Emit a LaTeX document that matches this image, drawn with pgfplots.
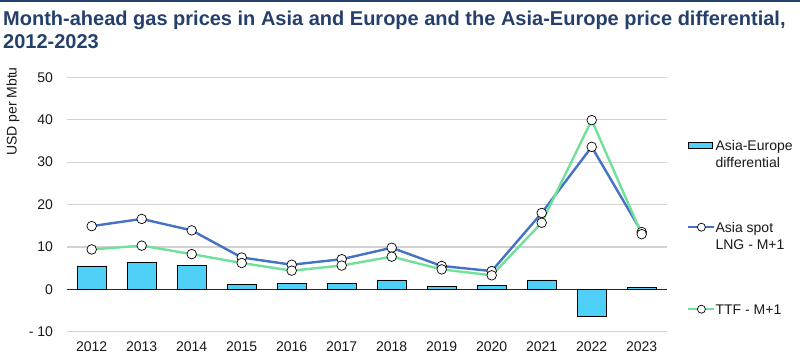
\documentclass[border=0pt]{standalone}
\usepackage{graphicx}
\usepackage{pgfplots}
\pgfplotsset{compat=1.18}
\usepackage{fontspec}
\setmainfont{Liberation Sans}
\definecolor{titlecol}{RGB}{36,64,107}
\definecolor{barcol}{RGB}{79,208,247}
\definecolor{asiacol}{RGB}{68,114,196}
\definecolor{ttfcol}{RGB}{112,224,155}
\definecolor{gridcol}{RGB}{210,210,210}
\definecolor{txtcol}{RGB}{25,25,25}
\pgfplotsset{
  linelegend/.style={legend image code/.code={\draw[##1, mark size=4bp, mark repeat=2, mark phase=2] plot coordinates {(0bp,5bp) (13bp,5bp) (26bp,5bp)};}},
  barlegend/.style={legend image code/.code={\draw[fill=barcol, draw=black, line width=0.8bp] (0bp,1.7bp) rectangle (24bp,7.7bp);}},
}
\begin{document}
\begin{tikzpicture}
\useasboundingbox (0,0) rectangle (800bp,-359bp);
\fill[titlecol] (0,0) rectangle (800bp,-1.5bp);
\node[anchor=base west, inner sep=0, text=titlecol, font=\fontsize{20bp}{23bp}\selectfont\bfseries] at (3bp,-25bp) {Month-ahead gas prices in Asia and Europe and the Asia-Europe price differential,};
\node[anchor=base west, inner sep=0, text=titlecol, font=\fontsize{20bp}{23bp}\selectfont\bfseries] at (3bp,-48bp) {2012-2023};
\begin{axis}[
  at={(66.7bp,-331.7bp)}, anchor=south west,
  scale only axis, width=600bp, height=254.4bp,
  xmin=-0.5, xmax=11.5, ymin=-10, ymax=50,
  xtick={0,1,2,3,4,5,6,7,8,9,10,11},
  xticklabels={2012,2013,2014,2015,2016,2017,2018,2019,2020,2021,2022,2023},
  ytick={-10,0,10,20,30,40,50},
  yticklabels={- 10,0,10,20,30,40,50},
  axis line style={draw=none},
  tick style={draw=none},
  major tick length=0pt,
  ymajorgrids,
  grid style={gridcol, line width=1.2bp},
  extra y ticks={0}, extra y tick labels={},
  extra y tick style={major grid style={black!85, line width=0.9bp}},
  tick label style={font=\fontsize{14bp}{16bp}\selectfont, text=txtcol},
  /pgf/number format/assume math mode=true,
  yticklabel style={inner sep=0pt, xshift=-13.5bp},
  xticklabel style={inner sep=0pt, yshift=-9.5bp},
  ylabel={USD per Mbtu},
  ylabel style={at={(axis description cs:-0.0895,0.865)}, anchor=center, font=\fontsize{14bp}{16bp}\selectfont, text=txtcol},
  legend style={at={(axis description cs:1,1)}, anchor=north west, xshift=20.3bp, yshift=-61.7bp,
    draw=none, fill=none, inner sep=0pt, row sep=0pt,
    font=\fontsize{14bp}{17bp}\selectfont, text=txtcol,
    cells={anchor=base west}, nodes={inner sep=0pt, text depth=, text height=}},
]
\addplot[ybar, bar width=0.58, fill=barcol, draw=black, line width=0.8bp, barlegend]
  coordinates {(0,5.5) (1,6.3) (2,5.7) (3,1.1) (4,1.3) (5,1.4) (6,2.2) (7,0.6) (8,0.9) (9,2.2) (10,-6.5) (11,0.5)};
\addlegendentry{\parbox[t][82bp][t]{100bp}{\fontsize{14bp}{17bp}\selectfont\raggedright\rule{0pt}{11bp}Asia-Europe\\differential}}
\addplot[asiacol, line width=2.4bp, mark=*, mark size=4.8bp, mark options={fill=white, draw=black, line width=0.7bp}, linelegend]
  coordinates {(0,14.9) (1,16.6) (2,13.9) (3,7.5) (4,5.8) (5,7.1) (6,9.8) (7,5.5) (8,4.3) (9,18.0) (10,33.6) (11,13.5)};
\addlegendentry{\parbox[t][82bp][t]{100bp}{\fontsize{14bp}{17bp}\selectfont\raggedright\rule{0pt}{11bp}Asia spot\\LNG - M+1}}
\addplot[ttfcol, line width=2.4bp, mark=*, mark size=4.8bp, mark options={fill=white, draw=black, line width=0.7bp}, linelegend]
  coordinates {(0,9.4) (1,10.3) (2,8.3) (3,6.2) (4,4.4) (5,5.6) (6,7.7) (7,4.7) (8,3.3) (9,15.7) (10,39.9) (11,13.0)};
\addlegendentry{\rule{0pt}{11bp}TTF - M+1}
\end{axis}
\end{tikzpicture}
\end{document}
